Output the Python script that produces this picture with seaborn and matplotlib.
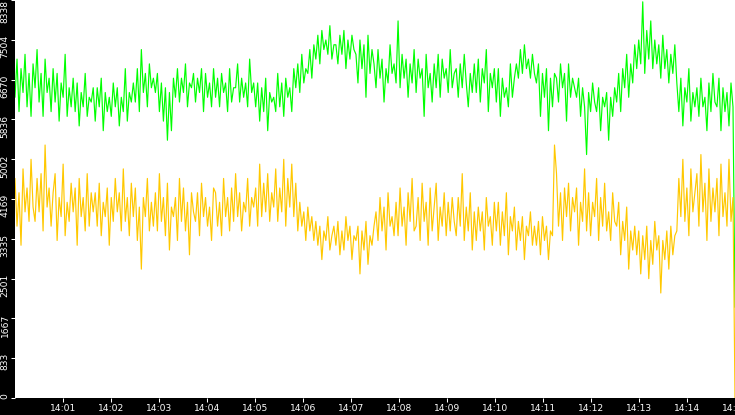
import numpy as np
import pandas as pd
import seaborn as sns
import matplotlib.pyplot as plt
import matplotlib.dates as mdates
from matplotlib.transforms import ScaledTranslation

# values, one sample every 2.5 s from 14:00 to 14:15
green_vals = [
    6300, 7100, 6000, 6900, 6400, 7200, 6100, 6800, 5900, 7000,
    6500, 7300, 6200, 6800, 5900, 7100, 6400, 6700, 6000, 6900,
    6200, 6800, 5800, 6600, 6300, 7200, 5900, 6500, 6100, 6700,
    6000, 6600, 5700, 6400, 6100, 6800, 5900, 6300, 6200, 6500,
    5800, 6500, 6100, 6700, 5600, 6400, 6000, 6300, 5900, 6600,
    6100, 6500, 5700, 6300, 6000, 6900, 5800, 6400, 6200, 6600,
    6200, 6900, 6000, 7300, 6400, 6800, 6100, 7000, 6500, 6700,
    6400, 6800, 6000, 6600, 5800, 6500, 5400, 6400, 5600, 6700,
    6300, 6900, 6200, 6700, 6400, 7000, 6100, 6600, 6500, 6800,
    6200, 6700, 6400, 6900, 6000, 6800, 6300, 6600, 6100, 6900,
    6300, 6700, 6100, 6800, 6400, 6600, 6000, 6900, 6200, 6500,
    6500, 7000, 6200, 6700, 6300, 6600, 6100, 7100, 6400, 6600,
    6100, 6600, 5800, 6500, 6000, 6700, 5600, 6400, 6200, 6300,
    6000, 6800, 6100, 6600, 5900, 6700, 6300, 6500, 6000, 6900,
    6500, 7000, 6400, 7200, 6600, 6900, 6800, 7300, 6700, 7400,
    7100, 7600, 7000, 7700, 7300, 7500, 7200, 7800, 7100, 7400,
    7400, 7000, 7600, 7200, 7700, 6900, 7500, 7100, 7600, 7300,
    7200, 6600, 7500, 6900, 7400, 6300, 7600, 6800, 7300, 7000,
    6500, 7300, 6700, 7100, 6200, 6900, 6600, 7400, 6800, 7000,
    6600, 7900, 6500, 7200, 6700, 7100, 6300, 7000, 6600, 7300,
    6400, 7100, 6700, 6900, 5900, 7200, 6500, 6800, 6200, 7000,
    6500, 7200, 6300, 7100, 6700, 6900, 6400, 7300, 6500, 6800,
    6900, 6300, 7000, 6500, 7200, 6600, 6100, 6800, 6400, 7000,
    6400, 7100, 6200, 6900, 6600, 7300, 6000, 6800, 6500, 6900,
    6200, 6900, 5900, 6700, 6300, 6500, 6100, 7000, 6300, 6700,
    7000, 6700, 7300, 6800, 7400, 6900, 7100, 6700, 7200, 6800,
    6600, 7000, 5900, 6800, 6300, 6900, 5600, 6700, 6100, 6800,
    6700, 6200, 7000, 6500, 6800, 5800, 7000, 6300, 6700, 6500,
    6300, 6700, 5900, 6500, 6100, 5100, 6400, 6000, 6600, 6200,
    6000, 6500, 5600, 6300, 6100, 6400, 5400, 6300, 5900, 6500,
    6200, 6800, 6000, 6900, 6500, 7200, 6300, 7000, 6600, 7400,
    6900, 7500, 7000, 8300, 6800, 7700, 7100, 7900, 6900, 7500,
    7000, 7400, 6700, 7600, 6900, 7300, 6600, 7200, 6800, 7400,
    6600, 6000, 6700, 5700, 6500, 6200, 6900, 5800, 6400, 6100,
    6500, 5900, 6700, 6100, 6300, 5600, 6600, 6000, 6800, 6200,
    6100, 6700, 5600, 6500, 6000, 6400, 5700, 6600, 6100, 1900,
]
yellow_vals = [
    4600, 3600, 4300, 3200, 4800, 3900, 4400, 3700, 5000, 4000,
    3700, 4600, 3900, 4700, 3500, 5300, 4000, 4400, 3600, 4300,
    4700, 3300, 4200, 3800, 4900, 3400, 4100, 3700, 4500, 3900,
    4400, 3200, 4600, 3800, 4200, 3500, 4700, 3600, 4300, 3900,
    4300, 3600, 4500, 3400, 4100, 3800, 4400, 3200, 4200, 3700,
    4600, 3900, 4300, 3500, 4800, 3700, 4200, 3400, 4500, 3800,
    4400, 3300, 4000, 2700, 4200, 3800, 4600, 3500, 4100, 3600,
    4300, 3500, 4700, 3700, 4200, 3400, 4500, 3100, 4000, 3800,
    4200, 3300, 4600, 3700, 4400, 3500, 4100, 3000, 4300, 3900,
    3700, 4300, 3400, 4500, 3800, 4200, 3600, 4000, 3300, 4400,
    4300, 3600, 4100, 3400, 4600, 3800, 4200, 3500, 4400, 3700,
    4700, 3800, 4300, 3500, 4100, 3900, 4600, 3600, 4200, 4000,
    4400, 3600, 4900, 3800, 4500, 3900, 4700, 3700, 4300, 4000,
    4800, 3700, 4400, 3900, 5000, 3600, 4600, 4000, 4900, 3800,
    4500, 3500, 4100, 3600, 3900, 3300, 4000, 3500, 3800, 3300,
    3700, 3200, 3600, 2900, 3500, 3300, 3800, 3100, 3400, 3600,
    3200, 3700, 3000, 3500, 3100, 3800, 3300, 3600, 2900, 3400,
    3300, 3600, 2600, 3500, 3100, 3700, 2800, 3400, 3200, 3600,
    3900, 3300, 4200, 3500, 4000, 3100, 4300, 3600, 3800, 3400,
    4100, 3400, 4400, 3600, 4000, 3200, 4300, 3700, 4600, 3500,
    3600, 4200, 3300, 4500, 3700, 4100, 3200, 4400, 3500, 4000,
    4500, 3300, 4000, 3600, 4300, 3400, 4100, 3500, 4200, 3700,
    3400, 4200, 3600, 4700, 3300, 4000, 3500, 4300, 3100, 3900,
    3300, 4000, 3500, 3900, 3100, 4200, 3600, 3800, 3200, 4100,
    3500, 4100, 3200, 3900, 3400, 4300, 3000, 3800, 3500, 4000,
    3100, 3700, 3300, 3800, 2900, 3600, 3400, 3900, 3200, 3600,
    3200, 3700, 3000, 3800, 3300, 3600, 2900, 3500, 3400, 5300,
    4700, 3600, 4300, 3300, 4400, 3800, 4500, 3500, 4200, 3900,
    4400, 3200, 4100, 3700, 4800, 3500, 4300, 3400, 4100, 3800,
    4600, 3300, 4200, 3600, 4500, 3500, 3900, 3300, 4300, 3700,
    3600, 4100, 3000, 3700, 3300, 4000, 2700, 3500, 3100, 3600,
    3000, 3500, 2600, 3400, 2900, 3600, 2500, 3300, 2800, 3700,
    3100, 3400, 2200, 3300, 2900, 3500, 2700, 3600, 3000, 3400,
    3500, 4600, 3800, 5000, 3700, 4400, 3400, 4800, 3900, 4300,
    4700, 3600, 5100, 3900, 4500, 3300, 4800, 3700, 4400, 3900,
    4600, 3400, 4900, 3800, 4300, 3600, 5000, 3700, 4200, 0,
]
y_ticks = [0, 833.8, 1667.6, 2501.4, 3335.2, 4169, 5002.8, 5836.6, 6670.4, 7504.2, 8338]
y_labels = ["0", "833", "1667", "2501", "3335", "4169", "5002", "5836", "6670", "7504", "8338"]

start = pd.Timestamp("2024-01-01 14:00:00")
end = pd.Timestamp("2024-01-01 14:15:00")
times = pd.date_range(start, end, periods=len(green_vals))

df = pd.concat([
    pd.DataFrame({"time": times, "value": green_vals, "series": "green"}),
    pd.DataFrame({"time": times, "value": yellow_vals, "series": "yellow"}),
])

sns.set_style("white")
plt.rcParams["font.family"] = ["DejaVu Sans"]

fig = plt.figure(figsize=(7.35, 4.15), dpi=100, facecolor="black")
ax = fig.add_axes([15 / 735, 17 / 415, 720 / 735, 398 / 415])
ax.set_facecolor("white")

sns.lineplot(data=df, x="time", y="value", hue="series",
             palette={"green": "#00ff00", "yellow": "#ffc800"},
             linewidth=0.85, legend=False, sort=False, ax=ax)

ax.set_xlim(start, end)
ax.set_ylim(0, 8338)
ax.set_xlabel("")
ax.set_ylabel("")
for s in ax.spines.values():
    s.set_visible(False)

ax.set_xticks(pd.date_range("2024-01-01 14:01", end, freq="min"))
ax.xaxis.set_major_formatter(mdates.DateFormatter("%H:%M"))
ax.set_yticks(y_ticks)
ax.set_yticklabels(y_labels, rotation=90, va="top", ha="right")

ax.tick_params(axis="both", colors="white", direction="out", length=3, width=0.75,
               labelsize=6.6)
ax.tick_params(axis="y", pad=0.8, left=True)
ax.tick_params(axis="x", pad=1.5, bottom=True)

# nudge the rotated y labels up a little so they start just above their tick
for lab in ax.get_yticklabels()[:-1]:
    lab.set_transform(lab.get_transform() + ScaledTranslation(0, 5 / 100, fig.dpi_scale_trans))

fig.savefig("out.png", dpi=100, facecolor="black")
